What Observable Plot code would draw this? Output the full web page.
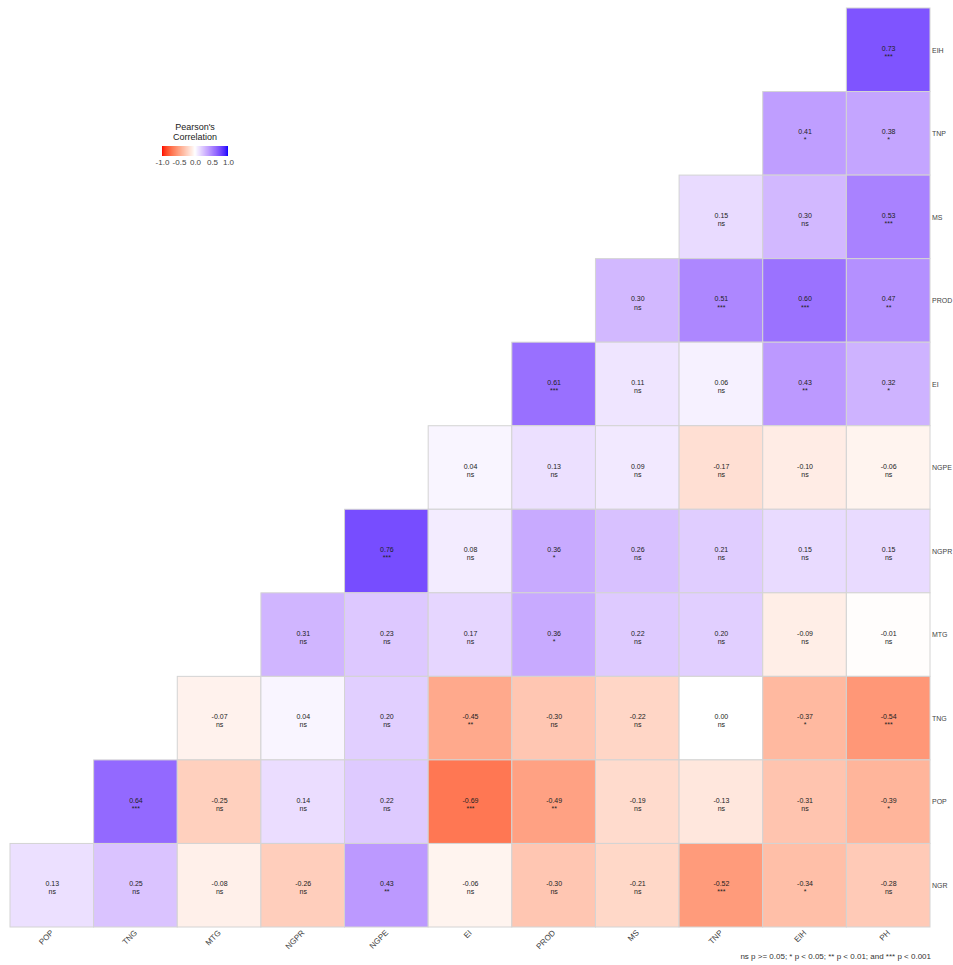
<!DOCTYPE html>
<html>
<head>
<meta charset="utf-8">
<script src="https://cdn.jsdelivr.net/npm/d3@7"></script>
<script src="https://cdn.jsdelivr.net/npm/@observablehq/plot@0.6"></script>
<style>
  body { margin: 0; background: #fff; }
  #wrap { position: relative; width: 953px; height: 965px; font-family: "Liberation Sans", Arial, sans-serif; }
  #legend { position: absolute; left: 150px; top: 123px; width: 90px; text-align: center; }
  #legend .title { font-size: 9px; line-height: 9.5px; color: #222; }
  #legend .tick line { display: none; }
  #caption { position: absolute; top: 952px; right: 22px; font-size: 8px; color: #333; white-space: nowrap; }
</style>
</head>
<body>
<div id="wrap">
  <div id="chart"></div>
  <div id="legend"><div class="title">Pearson's<br>Correlation</div></div>
  <div id="caption">ns p &gt;= 0.05; * p &lt; 0.05; ** p &lt; 0.01; and *** p &lt; 0.001</div>
</div>
<script>
const xVars = ["POP","TNG","MTG","NGPR","NGPE","EI","PROD","MS","TNP","EIH","PH"];
const yVars = ["EIH","TNP","MS","PROD","EI","NGPE","NGPR","MTG","TNG","POP","NGR"];

// correlation values per row (row order = yVars), right-aligned to the last columns
const corrValues = [
  [0.73],
  [0.41, 0.38],
  [0.15, 0.30, 0.53],
  [0.30, 0.51, 0.60, 0.47],
  [0.61, 0.11, 0.06, 0.43, 0.32],
  [0.04, 0.13, 0.09, -0.17, -0.10, -0.06],
  [0.76, 0.08, 0.36, 0.26, 0.21, 0.15, 0.15],
  [0.31, 0.23, 0.17, 0.36, 0.22, 0.20, -0.09, -0.01],
  [-0.07, 0.04, 0.20, -0.45, -0.30, -0.22, 0.00, -0.37, -0.54],
  [0.64, -0.25, 0.14, 0.22, -0.69, -0.49, -0.19, -0.13, -0.31, -0.39],
  [0.13, 0.25, -0.08, -0.26, 0.43, -0.06, -0.30, -0.21, -0.52, -0.34, -0.28]
];
const sigLabels = [
  ["***"],
  ["*","*"],
  ["ns","ns","***"],
  ["ns","***","***","**"],
  ["***","ns","ns","**","*"],
  ["ns","ns","ns","ns","ns","ns"],
  ["***","ns","*","ns","ns","ns","ns"],
  ["ns","ns","ns","*","ns","ns","ns","ns"],
  ["ns","ns","ns","**","ns","ns","ns","*","***"],
  ["***","ns","ns","ns","***","**","ns","ns","ns","*"],
  ["ns","ns","ns","ns","**","ns","ns","ns","***","*","ns"]
];
const legendTicks = [-1, -0.5, 0, 0.5, 1];

const cells = [];
yVars.forEach((row, i) => {
  const start = xVars.length - corrValues[i].length;
  corrValues[i].forEach((v, j) => {
    cells.push({x: xVars[start + j], y: row, v, sig: sigLabels[i][j]});
  });
});

const font = '"Liberation Sans", Arial, sans-serif';
const plot = Plot.plot({
  width: 953,
  height: 952,
  marginLeft: 10,
  marginRight: 23,
  marginTop: 8,
  marginBottom: 25,
  style: {fontFamily: font, fontSize: "8px", color: "#444", background: "#fff"},
  x: {domain: xVars, padding: 0, round: false, label: null},
  y: {domain: yVars, padding: 0, round: false, label: null},
  color: {type: "linear", domain: [-1, 0, 1], range: ["red", "white", "blue"], interpolate: "lab"},
  marks: [
    Plot.cell(cells, {x: "x", y: "y", fill: "v", stroke: "#d4d4d4", strokeWidth: 1, inset: 0}),
    Plot.text(cells, {x: "x", y: "y", text: d => d.v.toFixed(2) + "\n" + d.sig, fontSize: 7, lineHeight: 1.15, fill: "#222", dy: 2}),
    Plot.axisX({anchor: "bottom", tickRotate: -45, tickSize: 0, tickPadding: 4, fontSize: 8, label: null}),
    Plot.axisY({anchor: "right", tickSize: 0, tickPadding: 1.5, fontSize: 7, label: null})
  ]
});
document.getElementById("chart").appendChild(plot);

const leg = plot.legend("color", {
  width: 90, height: 26, marginLeft: 12, marginRight: 12, marginTop: 2, marginBottom: 14,
  ticks: legendTicks, tickFormat: d => d.toFixed(1), tickSize: 0, label: null,
  style: {fontFamily: font, fontSize: "8px", color: "#444"}
});
leg.style.display = "block";
leg.style.margin = "2px 0 0 0";
leg.querySelectorAll(".tick line").forEach(l => l.remove());
document.getElementById("legend").appendChild(leg);
</script>
</body>
</html>
